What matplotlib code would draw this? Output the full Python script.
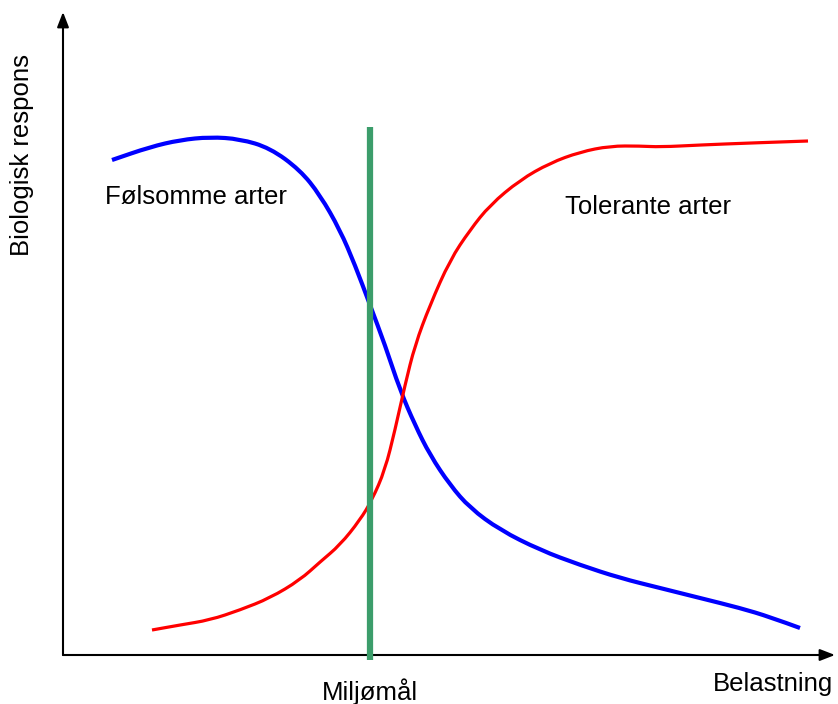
import matplotlib
matplotlib.use("Agg")
import matplotlib.pyplot as plt
from matplotlib.path import Path
from matplotlib.patches import PathPatch

plt.rcParams['font.family'] = ['Liberation Sans', 'DejaVu Sans']

# Coordinates: origin at the axes crossing, x = load (Belastning), y = biological response
OX, OY = 63, 655  # pixel position of the origin within the 838x704 canvas

sens_x = [49, 87, 117, 147, 177, 207, 237, 257, 277, 292, 307, 322, 337, 352, 367, 387, 407, 437, 477, 517, 557, 597, 637, 677, 707, 737]
sens_y = [495, 508, 515, 518, 516, 507, 485, 460, 425, 390, 350, 310, 265, 230, 200, 170, 147, 125, 105, 90, 77, 67, 57, 47, 38, 27]

tol_x = [89, 117, 147, 177, 207, 237, 257, 277, 297, 309, 322, 332, 342, 352, 367, 387, 407, 427, 457, 487, 517, 547, 577, 597, 637, 687, 745]
tol_y = [25, 30, 35, 45, 57, 75, 93, 110, 135, 155, 185, 225, 270, 310, 350, 395, 425, 450, 475, 492, 503, 509, 509, 508, 510, 512, 514]

target_x = 307  # Miljømål
target_y = [-5, 528]


def smooth_path(xs, ys):
    pts = list(zip(xs, ys))
    verts = [pts[0]]
    codes = [Path.MOVETO]
    mid = ((pts[0][0] + pts[1][0]) / 2, (pts[0][1] + pts[1][1]) / 2)
    verts.append(mid)
    codes.append(Path.LINETO)
    for i in range(1, len(pts) - 1):
        nxt = ((pts[i][0] + pts[i + 1][0]) / 2, (pts[i][1] + pts[i + 1][1]) / 2)
        if i == len(pts) - 2:
            nxt = pts[i + 1]
        verts += [pts[i], nxt]
        codes += [Path.CURVE3, Path.CURVE3]
    return Path(verts, codes)


fig = plt.figure(figsize=(8.38, 7.04), dpi=100)
ax = fig.add_axes([0, 0, 1, 1])
ax.set_xlim(-OX, 838 - OX)
ax.set_ylim(OY - 704, OY)
ax.axis('off')

# axes arrows
ax.annotate('', xy=(835 - OX, 0), xytext=(0, 0),
            arrowprops=dict(arrowstyle='-|>,head_length=0.9,head_width=0.35', color='black', lw=1.5, shrinkA=0, shrinkB=0))
ax.annotate('', xy=(0, OY - 12), xytext=(0, 0),
            arrowprops=dict(arrowstyle='-|>,head_length=0.9,head_width=0.35', color='black', lw=1.5, shrinkA=0, shrinkB=0))

ax.add_patch(PathPatch(smooth_path(sens_x, sens_y), facecolor='none', edgecolor='#0000ff', lw=3, capstyle='butt', zorder=3))
ax.add_patch(PathPatch(smooth_path(tol_x, tol_y), facecolor='none', edgecolor='#ff0000', lw=2.3, capstyle='butt', zorder=3))
ax.plot([target_x, target_x], target_y, color='#3c9d6b', lw=4.5, solid_capstyle='butt', zorder=4)

fs = 18.5
ax.text(105 - OX, OY - 197, 'Følsomme arter', fontsize=fs, ha='left', va='center')
ax.text(565 - OX, OY - 207, 'Tolerante arter', fontsize=fs, ha='left', va='center')
ax.text(370 - OX, OY - 692, 'Miljømål', fontsize=fs, ha='center', va='center')
ax.text(833 - OX, OY - 684, 'Belastning', fontsize=fs, ha='right', va='center')
ax.text(22 - OX, OY - 155, 'Biologisk respons', fontsize=fs, ha='center', va='center', rotation=90)

fig.savefig('out.png', dpi=100)
